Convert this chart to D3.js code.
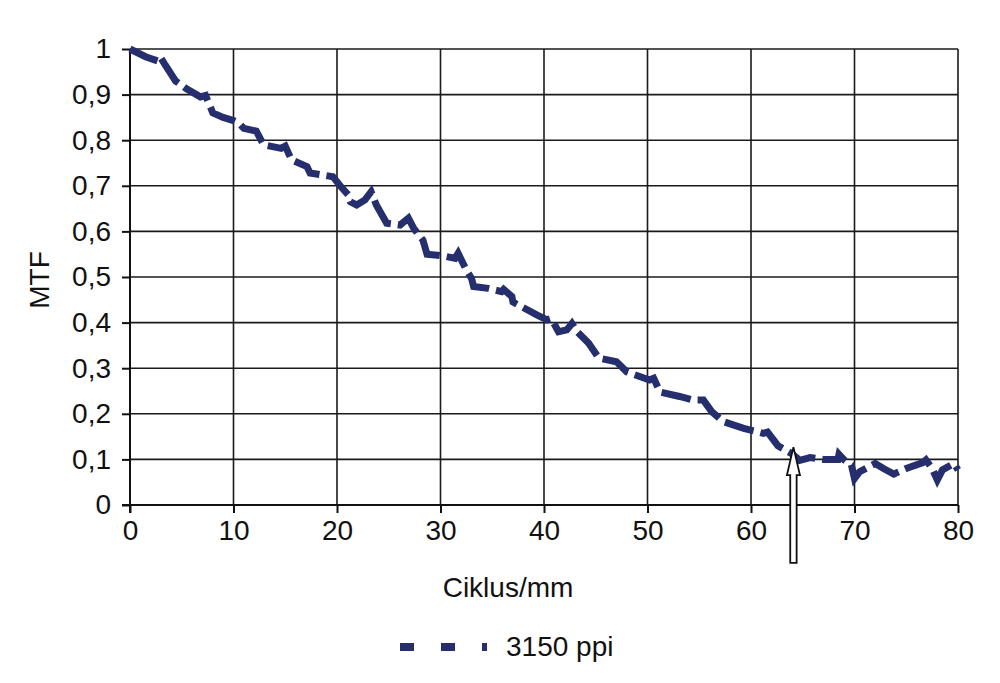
<!DOCTYPE html>
<html><head><meta charset="utf-8">
<script src="https://cdn.jsdelivr.net/npm/d3@7"></script>
<style>body{margin:0;background:#fff}svg{display:block}text{font-family:"Liberation Sans",Arial,Helvetica,sans-serif;fill:#111}</style>
</head><body>
<svg id="c" width="1000" height="683"></svg>
<script>
const xTicks = [0,10,20,30,40,50,60,70,80];
const yTicks = [0,0.1,0.2,0.3,0.4,0.5,0.6,0.7,0.8,0.9,1];
const xLabel = "Ciklus/mm";
const yLabel = "MTF";
const seriesName = "3150 ppi";
const freq = [0,1.5,2.9,3.0,3.4,4.4,5.5,6.8,7.3,8.0,9.0,10,10.5,11.0,12.2,12.9,14.6,15.0,15.6,17.1,17.4,19.6,20.3,21.1,21.3,21.9,22.7,23.3,23.8,24.8,26.1,26.9,27.4,28.3,28.7,30.3,31.4,31.7,32.5,33.0,33.2,34.6,35.9,36.1,36.9,37.0,39.3,40.3,40.7,41.4,42.2,42.7,43.2,44.3,45.3,47,48,50.2,50.6,51.2,53.1,54.4,55.4,56.2,57.3,59.3,61.2,61.6,62.6,63.9,64.7,65.7,67,68.4,68.5,69.0,69.7,70,70.5,72,72.8,73.8,75,76.6,76.9,77.5,78,78.5,79.6,80];
const mtf = [1.0,0.983,0.972,0.98,0.965,0.93,0.912,0.895,0.898,0.86,0.85,0.843,0.838,0.826,0.82,0.79,0.782,0.787,0.757,0.742,0.728,0.72,0.70,0.68,0.665,0.658,0.669,0.687,0.658,0.618,0.614,0.629,0.607,0.581,0.55,0.546,0.541,0.552,0.515,0.497,0.479,0.475,0.468,0.473,0.457,0.445,0.417,0.406,0.409,0.38,0.384,0.398,0.38,0.355,0.322,0.314,0.292,0.274,0.278,0.248,0.238,0.23,0.23,0.205,0.183,0.168,0.157,0.16,0.13,0.113,0.098,0.104,0.1,0.1,0.111,0.099,0.088,0.058,0.073,0.091,0.08,0.068,0.08,0.093,0.099,0.08,0.055,0.077,0.091,0.077];
const arrowAt = [64.1, 0.127];
const arrowEnd = -0.127;

const svg = d3.select("#c");
const x = d3.scaleLinear().domain([0,80]).range([130,958]);
const y = d3.scaleLinear().domain([0,1]).range([505,49]);
const color = "#262f6d";
const fmt = d => String(d).replace(".", ",");
const FS = 28;

// grid
svg.append("g").selectAll("line").data(yTicks).join("line")
  .attr("x1", x(0)).attr("x2", x(80)).attr("y1", d=>y(d)).attr("y2", d=>y(d))
  .attr("stroke","#1a1a1a").attr("stroke-width",1.6);
svg.append("g").selectAll("line").data(xTicks).join("line")
  .attr("y1", y(0)).attr("y2", y(1)).attr("x1", d=>x(d)).attr("x2", d=>x(d))
  .attr("stroke","#1a1a1a").attr("stroke-width",1.6);

// axes
const ax = svg.append("g").attr("transform",`translate(0,${y(0)})`)
  .call(d3.axisBottom(x).tickValues(xTicks).tickFormat(fmt).tickSizeInner(8).tickSizeOuter(0).tickPadding(7));
const ay = svg.append("g").attr("transform",`translate(${x(0)},0)`)
  .call(d3.axisLeft(y).tickValues(yTicks).tickFormat(fmt).tickSizeInner(8).tickSizeOuter(0).tickPadding(11));
[ax, ay].forEach(g => {
  g.select(".domain").attr("stroke","#111").attr("stroke-width",2);
  g.selectAll(".tick line").attr("stroke","#111").attr("stroke-width",2);
  g.selectAll("text").attr("font-size",FS).attr("fill","#111")
    .attr("font-family","'Liberation Sans',Arial,sans-serif");
});
ax.select(".domain").attr("d", `M${x(0)-8},0H${x(80)}`);
ay.select(".domain").attr("d", `M0,${y(1)}V${y(0)+8}`);

// line
const pts = freq.map((f,i)=>[f, mtf[i]]);
svg.append("path").datum(pts)
  .attr("d", d3.line().x(d=>x(d[0])).y(d=>y(d[1])))
  .attr("fill","none").attr("stroke",color).attr("stroke-width",7)
  .attr("stroke-dasharray","30,7").attr("stroke-linejoin","miter");

// arrow
const tx = x(arrowAt[0]), ty = y(arrowAt[1]), by = y(arrowEnd);
const hw = 6.5, sw = 3.2, hh = 28;
svg.append("path")
  .attr("d", `M${tx},${ty} L${tx+hw},${ty+hh} L${tx+sw},${ty+hh} L${tx+sw},${by} L${tx-sw},${by} L${tx-sw},${ty+hh} L${tx-hw},${ty+hh} Z`)
  .attr("fill","#fff").attr("stroke","#111").attr("stroke-width",1.8).attr("stroke-linejoin","miter");

// axis titles
svg.append("text").attr("x",508).attr("y",597).attr("text-anchor","middle")
  .attr("font-size",FS).text(xLabel);
svg.append("text").attr("transform","translate(49,280) rotate(-90)").attr("text-anchor","middle")
  .attr("font-size",FS).text(yLabel);

// legend
svg.append("line").attr("x1",400).attr("x2",487).attr("y1",647).attr("y2",647)
  .attr("stroke",color).attr("stroke-width",8).attr("stroke-dasharray","14,27");
svg.append("text").attr("x",506).attr("y",656).attr("font-size",FS).text(seriesName);
</script>
</body></html>
